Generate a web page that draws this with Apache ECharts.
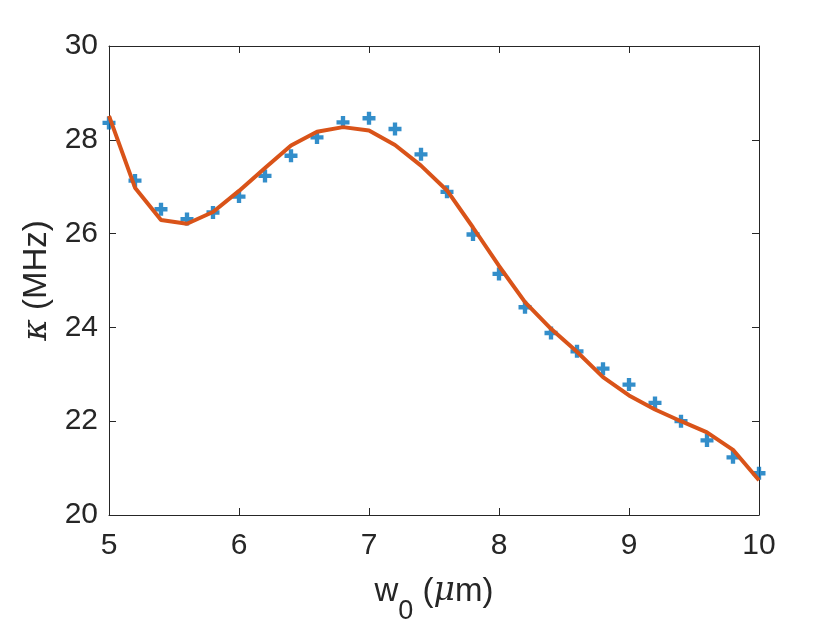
<!DOCTYPE html>
<html>
<head>
<meta charset="utf-8">
<script src="https://cdn.jsdelivr.net/npm/echarts@6/dist/echarts.min.js"></script>
<style>
  html, body { margin: 0; padding: 0; background: #fff; }
  #chart { width: 840px; height: 630px; }
</style>
</head>
<body>
<div id="chart"></div>
<script>
var waistVals = [5.0, 5.2, 5.4, 5.6, 5.8, 6.0, 6.2, 6.4, 6.6, 6.8, 7.0, 7.2, 7.4,
                 7.6, 7.8, 8.0, 8.2, 8.4, 8.6, 8.8, 9.0, 9.2, 9.4, 9.6, 9.8, 10.0];
var kappaMeas = [28.36, 27.13, 26.52, 26.31, 26.45, 26.79, 27.23, 27.66, 28.05, 28.37, 28.46, 28.23, 27.69,
                 26.89, 25.98, 25.14, 24.43, 23.88, 23.49, 23.12, 22.78, 22.39, 22.00, 21.59, 21.23, 20.89];
var kappaFit = [28.51, 26.98, 26.29, 26.21, 26.46, 26.91, 27.40, 27.88, 28.17, 28.27, 28.20, 27.89, 27.45,
                26.92, 26.13, 25.31, 24.54, 23.97, 23.48, 22.94, 22.55, 22.25, 22.00, 21.76, 21.39, 20.74];
var xTicks = [5, 6, 7, 8, 9, 10];
var yTicks = [20, 22, 24, 26, 28, 30];

var axisCol = '#262626';
var fontFam = 'Liberation Sans, Arial, sans-serif';

function pairs(xs, ys) {
    var out = [];
    for (var i = 0; i < xs.length; i++) out.push([xs[i], ys[i]]);
    return out;
}

// filled plus sign, arms one third of the width
var plusPath = 'path://M4,0h4v4h4v4h-4v4h-4v-4h-4v-4h4z';

var myChart = echarts.init(document.getElementById('chart'));

var baseAxis = {
    type: 'value',
    axisLine: { show: true, lineStyle: { color: axisCol, width: 1 } },
    axisTick: { show: true, inside: true, length: 7, lineStyle: { color: axisCol, width: 1 } },
    splitLine: { show: false }
};

myChart.setOption({
    animation: false,
    backgroundColor: '#fff',
    grid: { left: 109, right: 81, top: 46, bottom: 113 },
    xAxis: [
        echarts.util.merge({
            min: xTicks[0], max: xTicks[xTicks.length - 1], interval: 1,
            position: 'bottom',
            axisLabel: { color: axisCol, fontSize: 30, fontFamily: fontFam, margin: 16 },
            name: 'w{sub|0} ({it|μ}m)',
            nameLocation: 'middle',
            nameGap: 60,
            nameTextStyle: {
                color: axisCol, fontSize: 33, fontFamily: fontFam,
                lineHeight: 33, verticalAlign: 'top',
                rich: {
                    sub: { fontSize: 27, fontFamily: fontFam, color: axisCol, lineHeight: 27, padding: [23, 0, 0, 0], verticalAlign: 'top' },
                    it: { fontSize: 33, fontFamily: 'DejaVu Serif', fontStyle: 'italic', color: axisCol, lineHeight: 33, verticalAlign: 'top' }
                }
            }
        }, baseAxis, true),
        echarts.util.merge({
            min: xTicks[0], max: xTicks[xTicks.length - 1], interval: 1,
            position: 'top',
            axisLabel: { show: false }
        }, baseAxis, true)
    ],
    yAxis: [
        echarts.util.merge({
            min: yTicks[0], max: yTicks[yTicks.length - 1], interval: 2,
            position: 'left',
            axisLabel: { color: axisCol, fontSize: 30, fontFamily: fontFam, margin: 11 },
            name: '{it|κ} (MHz)',
            nameLocation: 'middle',
            nameGap: 54,
            nameRotate: 90,
            nameTextStyle: {
                color: axisCol, fontSize: 33, fontFamily: fontFam,
                rich: {
                    it: { fontSize: 33, fontFamily: 'DejaVu Serif', fontStyle: 'italic', color: axisCol }
                }
            }
        }, baseAxis, true),
        echarts.util.merge({
            min: yTicks[0], max: yTicks[yTicks.length - 1], interval: 2,
            position: 'right',
            axisLabel: { show: false }
        }, baseAxis, true)
    ],
    series: [
        {
            name: 'measured',
            type: 'scatter',
            data: pairs(waistVals, kappaMeas),
            symbol: plusPath,
            symbolSize: 13,
            itemStyle: { color: '#0072BD' },
            z: 2
        },
        {
            name: 'fit',
            type: 'line',
            data: pairs(waistVals, kappaFit),
            showSymbol: false,
            symbol: 'none',
            lineStyle: { color: '#D95319', width: 4 },
            z: 3
        }
    ]
});
</script>
</body>
</html>
